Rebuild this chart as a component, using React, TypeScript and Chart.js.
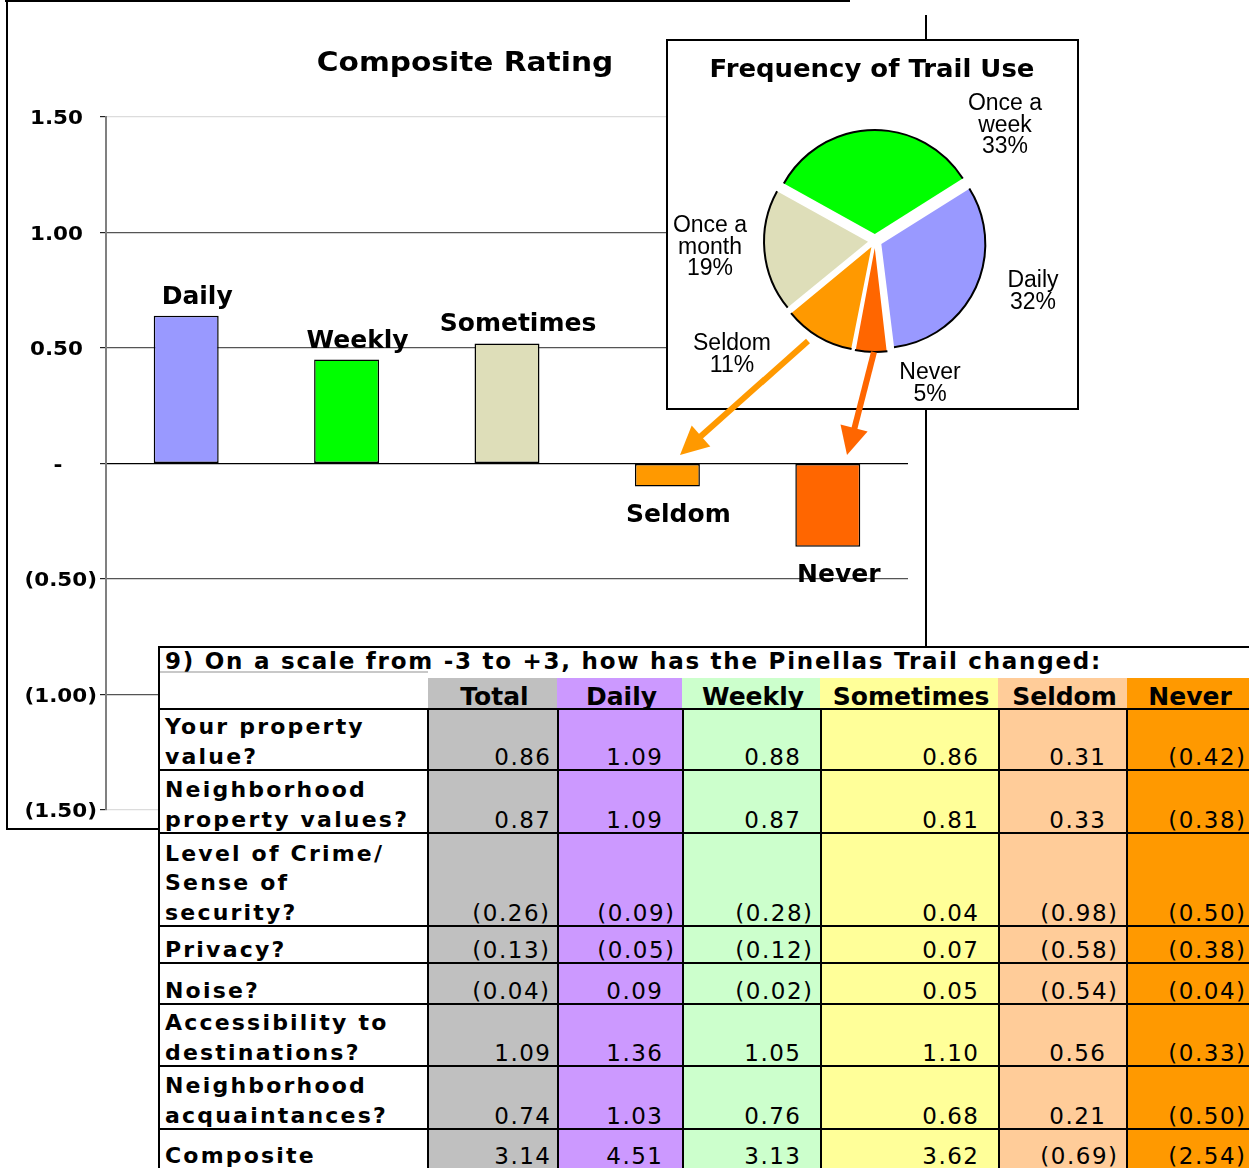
import React, { useEffect, useRef } from "react";
import { Chart, registerables } from "chart.js";

Chart.register(...registerables);

// ---------- DATA ----------
const BAR_CATEGORIES = ["Daily", "Weekly", "Sometimes", "Seldom", "Never"];
const BAR_VALUES = [0.64, 0.45, 0.52, -0.1, -0.36];
const BAR_COLORS = ["#9999FF", "#00FF00", "#DEDEB9", "#FF9900", "#FF6600"];
const Y_TICKS = [1.5, 1, 0.5, 0, -0.5, -1, -1.5];

const PIE_LABELS = ["Once a\nweek", "Daily", "Never", "Seldom", "Once a\nmonth"];
const PIE_VALUES = [33, 32, 5, 11, 19];
const PIE_COLORS = ["#00FF00", "#9999FF", "#FF6600", "#FF9900", "#DEDEB9"];

const TABLE_TITLE = "9) On a scale from -3 to +3, how has the Pinellas Trail changed:";
const TABLE_COLUMNS = ["Total", "Daily", "Weekly", "Sometimes", "Seldom", "Never"];
const TABLE_ROWS = [
  "Your property\nvalue?",
  "Neighborhood\nproperty values?",
  "Level of Crime/\nSense of\nsecurity?",
  "Privacy?",
  "Noise?",
  "Accessibility to\ndestinations?",
  "Neighborhood\nacquaintances?",
  "Composite",
];
const TOTAL = [0.86, 0.87, -0.26, -0.13, -0.04, 1.09, 0.74, 3.14];
const DAILY = [1.09, 1.09, -0.09, -0.05, 0.09, 1.36, 1.03, 4.51];
const WEEKLY = [0.88, 0.87, -0.28, -0.12, -0.02, 1.05, 0.76, 3.13];
const SOMETIMES = [0.86, 0.81, 0.04, 0.07, 0.05, 1.1, 0.68, 3.62];
const SELDOM = [0.31, 0.33, -0.98, -0.58, -0.54, 0.56, 0.21, -0.69];
const NEVER = [-0.42, -0.38, -0.5, -0.38, -0.04, -0.33, -0.5, -2.54];
const TABLE_VALUES = [TOTAL, DAILY, WEEKLY, SOMETIMES, SELDOM, NEVER];
const TABLE_COLORS = ["#C0C0C0", "#CC99FF", "#CCFFCC", "#FFFF99", "#FFCC99", "#FF9900"];

// ---------- LAYOUT ----------
const PAGE_W = 1249;
const PAGE_H = 1168;
const EXPLODE = 7;
const PIE_R = 104;
const PIE_LABEL_OFFSETS = [
  [130, -131],
  [158, 46],
  [55, 138],
  [-143, 109],
  [-165, -9],
];
const COL_X = [160, 428, 557, 682, 820, 998, 1127, 1260];
const ROW_BOTTOMS = [769, 832, 925, 962, 1003, 1065, 1128, 1168];
const H_BORDERS = [646, 708, 769, 832, 925, 962, 1003, 1065, 1128];
const V_BORDERS = [427, 557, 682, 820, 998, 1126];
const POS_RIGHT = [550, 662, 800, 978, 1105, 1233];
const NEG_RIGHT = [549, 674, 812, 990, 1117, 1245];

const fmt = (v: number) =>
  v === 0 ? "-" : v < 0 ? `(${Math.abs(v).toFixed(2)})` : v.toFixed(2);

function drawText(
  ctx: CanvasRenderingContext2D,
  text: string,
  x: number,
  y: number,
  font: string,
  align: "left" | "right" | "center",
  sx = 1,
  color = "#000"
) {
  ctx.save();
  ctx.font = font;
  ctx.fillStyle = color;
  ctx.textBaseline = "alphabetic";
  ctx.textAlign = "left";
  const w = ctx.measureText(text).width * sx;
  const left = align === "center" ? x - w / 2 : align === "right" ? x - w : x;
  ctx.translate(left, y);
  ctx.scale(sx, 1);
  ctx.fillText(text, 0, 0);
  ctx.restore();
}

const barDecor = {
  id: "barDecor",
  afterDatasetsDraw(chart: any) {
    const ctx = chart.ctx as CanvasRenderingContext2D;
    const meta = chart.getDatasetMeta(0);
    meta.data.forEach((bar: any, i: number) => {
      const v = BAR_VALUES[i];
      const yy = v >= 0 ? bar.y - 12 : bar.y + 35;
      drawText(ctx, BAR_CATEGORIES[i], bar.x + 11, yy, 'bold 25px "DejaVu Sans"', "center", 1);
    });
  },
  afterDraw(chart: any) {
    const ctx = chart.ctx as CanvasRenderingContext2D;
    const ys = chart.scales.y;
    Y_TICKS.forEach((v) => {
      const py = ys.getPixelForValue(v) + 7;
      const f = 'bold 19px "DejaVu Sans"';
      if (v === 0) drawText(ctx, fmt(v), 58, py, f, "center", 1.13);
      else if (v < 0) drawText(ctx, fmt(v), 97, py, f, "right", 1.13);
      else drawText(ctx, fmt(v), 83, py, f, "right", 1.13);
    });
    drawText(ctx, "Composite Rating", 465, 71, 'bold 26px "DejaVu Sans"', "center", 1.14);
  },
};

const pieDecor = {
  id: "pieDecor",
  beforeDatasetsDraw(chart: any) {
    const meta = chart.getDatasetMeta(0);
    meta.data.forEach((el: any) => {
      const circ = el.endAngle - el.startAngle;
      const fix = 1 - Math.sin(Math.min(Math.PI, circ));
      el.outerRadius = PIE_R - EXPLODE * fix;
    });
  },
  afterDatasetsDraw(chart: any) {
    const ctx = chart.ctx as CanvasRenderingContext2D;
    const meta = chart.getDatasetMeta(0);
    meta.data.forEach((el: any) => {
      const h = (el.startAngle + el.endAngle) / 2;
      const cx = el.x + Math.cos(h) * EXPLODE;
      const cy = el.y + Math.sin(h) * EXPLODE;
      ctx.save();
      ctx.beginPath();
      ctx.arc(cx, cy, PIE_R, el.startAngle, el.endAngle);
      ctx.lineWidth = 2;
      ctx.strokeStyle = "#000";
      ctx.stroke();
      ctx.restore();
    });
  },
  afterDraw(chart: any) {
    const ctx = chart.ctx as CanvasRenderingContext2D;
    drawText(ctx, "Frequency of Trail Use", 206, 38, 'bold 24px "DejaVu Sans"', "center", 1.08);
    const meta = chart.getDatasetMeta(0);
    const el = meta.data[0];
    PIE_LABELS.forEach((lab, i) => {
      const lines = [...lab.split("\n"), `${PIE_VALUES[i]}%`];
      const x = el.x + PIE_LABEL_OFFSETS[i][0];
      const y0 = el.y + PIE_LABEL_OFFSETS[i][1];
      lines.forEach((ln, k) => {
        drawText(ctx, ln, x, y0 + k * 21.5, '23px "Liberation Sans"', "center", 1);
      });
    });
  },
};

function T(props: {
  x: number;
  y: number;
  size: number;
  bold?: boolean;
  align?: "left" | "right" | "center";
  ls?: number;
  children: React.ReactNode;
}) {
  const { x, y, size, bold, align = "left", ls = 0, children } = props;
  const style: any = {
    position: "absolute",
    top: y - 0.846 * size,
    fontFamily: '"DejaVu Sans"',
    fontSize: size,
    fontWeight: bold ? "bold" : "normal",
    lineHeight: size + "px",
    letterSpacing: ls,
    whiteSpace: "pre",
    color: "#000",
  };
  if (align === "left") style.left = x;
  else if (align === "right") style.right = PAGE_W - x - ls;
  else {
    style.left = x - 300 + ls / 2;
    style.width = 600;
    style.textAlign = "center";
  }
  return <div style={style}>{children}</div>;
}

function Line(p: { x: number; y: number; w: number; h: number; c?: string; z?: number }) {
  return (
    <div
      style={{
        position: "absolute",
        left: p.x,
        top: p.y,
        width: p.w,
        height: p.h,
        background: p.c || "#000",
        zIndex: p.z,
      }}
    />
  );
}

function Table() {
  const items: React.ReactNode[] = [];
  items.push(
    <div key="bg" style={{ position: "absolute", left: 158, top: 646, width: 1100, height: 530, background: "#fff" }} />
  );
  TABLE_COLORS.forEach((c, j) => {
    items.push(
      <div
        key={"cbg" + j}
        style={{ position: "absolute", left: COL_X[j + 1], top: 678, width: COL_X[j + 2] - COL_X[j + 1], height: 500, background: c }}
      />
    );
  });
  items.push(<Line key="gl" x={160} y={671} w={268} h={2} c="#C8C8C8" />);
  H_BORDERS.forEach((y, i) => items.push(<Line key={"hb" + i} x={158} y={y} w={1100} h={2} />));
  items.push(<Line key="vl" x={158} y={646} w={2} h={530} />);
  V_BORDERS.forEach((x, i) => items.push(<Line key={"vb" + i} x={x} y={708} w={2} h={470} />));
  items.push(
    <T key="title" x={165} y={669} size={23} bold ls={1.75}>
      {TABLE_TITLE}
    </T>
  );
  TABLE_COLUMNS.forEach((h, j) => {
    const cx = (COL_X[j + 1] + Math.min(COL_X[j + 2], 1249)) / 2 + 2;
    items.push(
      <T key={"h" + j} x={cx} y={705} size={25} bold align="center">
        {h}
      </T>
    );
  });
  TABLE_ROWS.forEach((lab, r) => {
    const base = ROW_BOTTOMS[r] - 4.5;
    const lines = lab.split("\n");
    lines.forEach((ln, k) => {
      items.push(
        <T key={`l${r}_${k}`} x={165} y={base - (lines.length - 1 - k) * 29.5} size={22} bold ls={2.2}>
          {ln}
        </T>
      );
    });
    TABLE_VALUES.forEach((col, j) => {
      const v = col[r];
      const right = v < 0 ? NEG_RIGHT[j] : POS_RIGHT[j];
      items.push(
        <T key={`v${r}_${j}`} x={right} y={base + 1} size={23} align="right" ls={1.5}>
          {fmt(v)}
        </T>
      );
    });
  });
  return <div style={{ position: "absolute", left: 0, top: 0, width: PAGE_W, height: PAGE_H, zIndex: 2 }}>{items}</div>;
}

export default function App() {
  const barRef = useRef<HTMLCanvasElement>(null);
  const pieRef = useRef<HTMLCanvasElement>(null);

  useEffect(() => {
    const bar = new Chart(barRef.current!, {
      type: "bar",
      data: {
        labels: BAR_CATEGORIES,
        datasets: [
          {
            data: BAR_VALUES,
            backgroundColor: BAR_COLORS,
            borderColor: "#000",
            borderWidth: 1.5,
            borderSkipped: false,
            barPercentage: 0.405,
            categoryPercentage: 1,
          },
        ],
      },
      options: {
        animation: false,
        responsive: false,
        layout: { padding: { left: 0, right: 18, top: 117, bottom: 20 } },
        plugins: { legend: { display: false }, tooltip: { enabled: false }, title: { display: false } },
        scales: {
          x: { display: false },
          y: {
            min: -1.5,
            max: 1.5,
            ticks: { stepSize: 0.5, display: false },
            afterFit: (s: any) => {
              s.width = 106;
            },
            grid: {
              color: (c: any) => {
                const v = c.tick ? c.tick.value : 1;
                if (Math.abs(v) === 1.5) return "#DCDCDC";
                if (v === 0) return "#000";
                return "#555";
              },
              tickColor: "#222",
              tickLength: 6,
              lineWidth: 1.2,
            },
            border: { color: "#808080", width: 2 },
          },
        },
      } as any,
      plugins: [barDecor],
    });

    const pie = new Chart(pieRef.current!, {
      type: "pie",
      data: {
        labels: PIE_LABELS,
        datasets: [
          {
            data: PIE_VALUES,
            backgroundColor: PIE_COLORS,
            borderWidth: 0,
            offset: EXPLODE * 4,
          },
        ],
      },
      options: {
        animation: false,
        responsive: false,
        rotation: -61,
        radius: PIE_R,
        layout: { padding: { left: 5, right: 0, top: 33, bottom: 0 } },
        plugins: { legend: { display: false }, tooltip: { enabled: false } },
      } as any,
      plugins: [pieDecor],
    });

    return () => {
      bar.destroy();
      pie.destroy();
    };
  }, []);

  return (
    <div
      style={{
        position: "absolute",
        left: 0,
        top: 0,
        width: PAGE_W,
        height: PAGE_H,
        overflow: "hidden",
        background: "#fff",
      }}
    >
      <canvas
        ref={barRef}
        width={926}
        height={830}
        style={{ position: "absolute", left: 0, top: 0, width: 926, height: 830, zIndex: 0 }}
      />
      <Line x={5} y={0} w={845} h={2} z={1} />
      <Line x={6} y={0} w={2} h={830} z={1} />
      <Line x={6} y={828} w={154} h={2} z={1} />
      <Line x={925} y={15} w={2} h={632} z={1} />
      <div
        style={{
          position: "absolute",
          left: 666,
          top: 39,
          width: 413,
          height: 371,
          boxSizing: "border-box",
          border: "2px solid #000",
          background: "#fff",
          zIndex: 2,
        }}
      />
      <canvas
        ref={pieRef}
        width={413}
        height={371}
        style={{ position: "absolute", left: 666, top: 39, width: 413, height: 371, zIndex: 3 }}
      />
      <Table />
      <svg
        width={PAGE_W}
        height={PAGE_H}
        style={{ position: "absolute", left: 0, top: 0, zIndex: 4, pointerEvents: "none" }}
      >
        <line x1={808} y1={341} x2={700} y2={437} stroke="#FF9900" strokeWidth={6} />
        <polygon points="680,455 691.7,425.5 710.3,446.5" fill="#FF9900" />
        <line x1={874} y1={352} x2={854} y2={430} stroke="#FF6600" strokeWidth={6} />
        <polygon points="847,455 840.5,424.4 867.6,431.4" fill="#FF6600" />
      </svg>
    </div>
  );
}
